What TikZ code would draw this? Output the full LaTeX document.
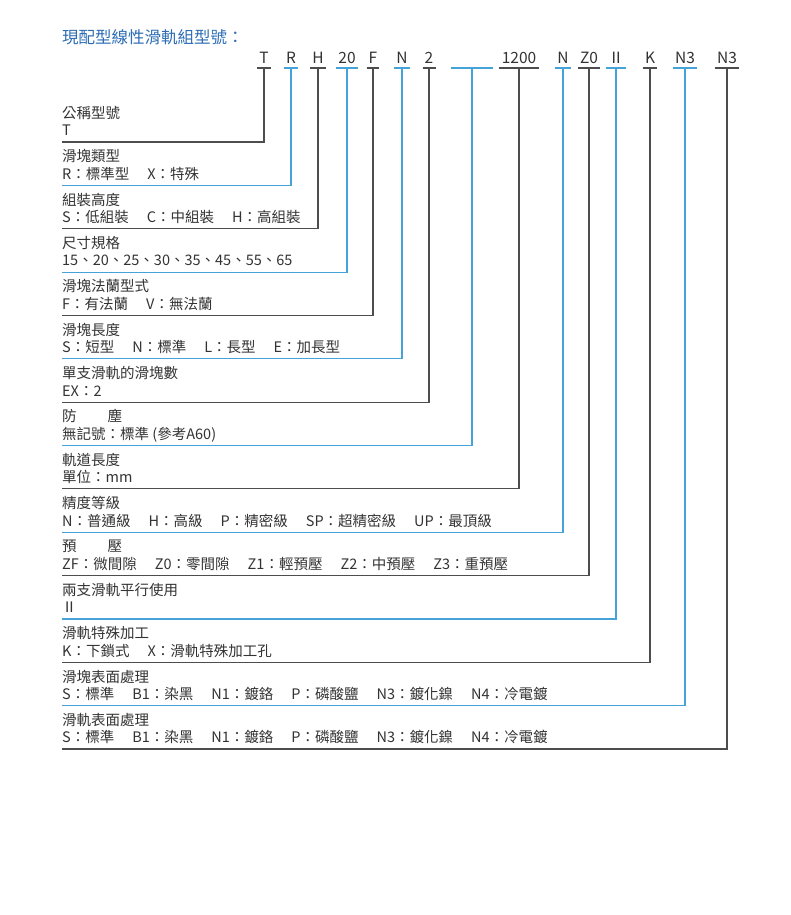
\documentclass[tikz,border=0pt]{standalone}
\usepackage{fontspec}
\setmainfont{Noto Sans CJK TC}
\usetikzlibrary{positioning}

\definecolor{titleblue}{HTML}{2C6DB5}
\definecolor{lineblue}{HTML}{45A3DA}
\definecolor{linegray}{HTML}{4D4D4D}
\definecolor{textgray}{HTML}{333333}

\newcommand{\itemgap}{\hspace{18pt}}

\tikzset{
  code/.style={anchor=south, inner xsep=2pt, inner ysep=4pt, text depth=0pt,
    font=\fontsize{15.5}{17}\selectfont, text=textgray},
  desc/.style={align=left, inner sep=0pt, text depth=0pt,
    font=\fontsize{14.5}{17.5}\selectfont, text=textgray},
  blueline/.style={draw=lineblue, line width=1.1pt},
  grayline/.style={draw=linegray, line width=1.1pt}
}

\begin{document}
\begin{tikzpicture}[x=1pt, y=-1pt]
\useasboundingbox[fill=white] (0,0) rectangle (790,915);

% Title
\node[anchor=west, inner sep=0pt, text=titleblue, font=\fontsize{16.5}{18}\selectfont] (title) at (62,37) {現配型線性滑軌組型號：};

% Code letters on top
\node[code] (cT) at (264,68) {T};
\node[code] (cR) at (291,68) {R};
\node[code] (cH) at (318,68) {H};
\node[code] (cSize) at (347,68) {20};
\node[code] (cF) at (373,68) {F};
\node[code] (cLen) at (402,68) {N};
\node[code] (cNum) at (429,68) {2};
\node[code, minimum width=41pt] (cDust) at (472,68) {};
\node[code, minimum width=40pt] (cRail) at (519,68) {1200};
\node[code] (cAcc) at (563,68) {N};
\node[code] (cPre) at (589,68) {Z0};
\node[code] (cPair) at (616,68) {Ⅱ};
\node[code] (cK) at (650,68) {K};
\node[code] (cBlk) at (685,68) {N3};
\node[code] (cSurf) at (727,68) {N3};

% Bars under the codes
\draw[grayline] (cT.south west) -- (cT.south east);
\draw[blueline] (cR.south west) -- (cR.south east);
\draw[grayline] (cH.south west) -- (cH.south east);
\draw[blueline] (cSize.south west) -- (cSize.south east);
\draw[grayline] (cF.south west) -- (cF.south east);
\draw[blueline] (cLen.south west) -- (cLen.south east);
\draw[grayline] (cNum.south west) -- (cNum.south east);
\draw[blueline] (cDust.south west) -- (cDust.south east);
\draw[grayline] (cRail.south west) -- (cRail.south east);
\draw[blueline] (cAcc.south west) -- (cAcc.south east);
\draw[grayline] (cPre.south west) -- (cPre.south east);
\draw[blueline] (cPair.south west) -- (cPair.south east);
\draw[grayline] (cK.south west) -- (cK.south east);
\draw[blueline] (cBlk.south west) -- (cBlk.south east);
\draw[grayline] (cSurf.south west) -- (cSurf.south east);

% Left ends of the leader lines
\coordinate (eT) at (62,142);
\coordinate (eR) at (62,185.4);
\coordinate (eH) at (62,228.7);
\coordinate (eSize) at (62,272.1);
\coordinate (eF) at (62,315.4);
\coordinate (eLen) at (62,358.8);
\coordinate (eNum) at (62,402.2);
\coordinate (eDust) at (62,445.5);
\coordinate (eRail) at (62,488.9);
\coordinate (eAcc) at (62,532.2);
\coordinate (ePre) at (62,575.6);
\coordinate (ePair) at (62,619);
\coordinate (eK) at (62,662.3);
\coordinate (eBlk) at (62,705.7);
\coordinate (eSurf) at (62,749);

% Leader lines
\draw[grayline] (cT.south) |- (eT);
\draw[blueline] (cR.south) |- (eR);
\draw[grayline] (cH.south) |- (eH);
\draw[blueline] (cSize.south) |- (eSize);
\draw[grayline] (cF.south) |- (eF);
\draw[blueline] (cLen.south) |- (eLen);
\draw[grayline] (cNum.south) |- (eNum);
\draw[blueline] (cDust.south) |- (eDust);
\draw[grayline] (cRail.south) |- (eRail);
\draw[blueline] (cAcc.south) |- (eAcc);
\draw[grayline] (cPre.south) |- (ePre);
\draw[blueline] (cPair.south) |- (ePair);
\draw[grayline] (cK.south) |- (eK);
\draw[blueline] (cBlk.south) |- (eBlk);
\draw[grayline] (cSurf.south) |- (eSurf);

% Descriptions
\node[desc, above right=6pt and 0pt of eT] (dT) {公稱型號\\T};
\node[desc, above right=6pt and 0pt of eR] (dR) {滑塊類型\\R：標準型\itemgap X：特殊};
\node[desc, above right=6pt and 0pt of eH] (dH) {組裝高度\\S：低組裝\itemgap C：中組裝\itemgap H：高組裝};
\node[desc, above right=6pt and 0pt of eSize] (dSize) {尺寸規格\\15、20、25、30、35、45、55、65};
\node[desc, above right=6pt and 0pt of eF] (dF) {滑塊法蘭型式\\F：有法蘭\itemgap V：無法蘭};
\node[desc, above right=6pt and 0pt of eLen] (dLen) {滑塊長度\\S：短型\itemgap N：標準\itemgap L：長型\itemgap E：加長型};
\node[desc, above right=6pt and 0pt of eNum] (dNum) {單支滑軌的滑塊數\\EX：2};
\node[desc, above right=6pt and 0pt of eDust] (dDust) {防\hspace{31pt}塵\\無記號：標準 (參考A60)};
\node[desc, above right=6pt and 0pt of eRail] (dRail) {軌道長度\\單位：mm};
\node[desc, above right=6pt and 0pt of eAcc] (dAcc) {精度等級\\N：普通級\itemgap H：高級\itemgap P：精密級\itemgap SP：超精密級\itemgap UP：最頂級};
\node[desc, above right=6pt and 0pt of ePre] (dPre) {預\hspace{31pt}壓\\ZF：微間隙\itemgap Z0：零間隙\itemgap Z1：輕預壓\itemgap Z2：中預壓\itemgap Z3：重預壓};
\node[desc, above right=6pt and 0pt of ePair] (dPair) {兩支滑軌平行使用\\Ⅱ};
\node[desc, above right=6pt and 0pt of eK] (dK) {滑軌特殊加工\\K：下鎖式\itemgap X：滑軌特殊加工孔};
\node[desc, above right=6pt and 0pt of eBlk] (dBlk) {滑塊表面處理\\S：標準\itemgap B1：染黑\itemgap N1：鍍鉻\itemgap P：磷酸鹽\itemgap N3：鍍化鎳\itemgap N4：冷電鍍};
\node[desc, above right=6pt and 0pt of eSurf] (dSurf) {滑軌表面處理\\S：標準\itemgap B1：染黑\itemgap N1：鍍鉻\itemgap P：磷酸鹽\itemgap N3：鍍化鎳\itemgap N4：冷電鍍};

\end{tikzpicture}
\end{document}
